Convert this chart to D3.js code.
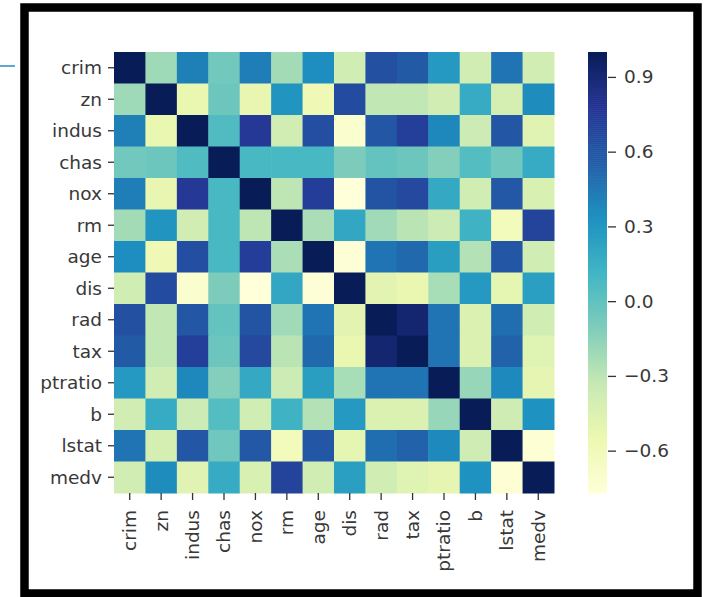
<!DOCTYPE html>
<html>
<head>
<meta charset="utf-8">
<script src="https://cdn.jsdelivr.net/npm/d3@7"></script>
<style>
  html, body { margin: 0; padding: 0; background: #ffffff; }
  svg { display: block; }
  text { font-family: "DejaVu Sans", sans-serif; fill: #383838; }
</style>
</head>
<body>
<svg id="chart" width="705" height="597"></svg>
<script>
// ---- data ----
const variables = ["crim","zn","indus","chas","nox","rm","age","dis","rad","tax","ptratio","b","lstat","medv"];
const crim    = [ 1.00,-0.20, 0.41,-0.06, 0.42,-0.22, 0.35,-0.38, 0.63, 0.58, 0.29,-0.39, 0.46,-0.39];
const zn      = [-0.20, 1.00,-0.53,-0.04,-0.52, 0.31,-0.57, 0.66,-0.31,-0.31,-0.39, 0.18,-0.41, 0.36];
const indus   = [ 0.41,-0.53, 1.00, 0.06, 0.76,-0.39, 0.64,-0.71, 0.60, 0.72, 0.38,-0.36, 0.60,-0.48];
const chas    = [-0.06,-0.04, 0.06, 1.00, 0.09, 0.09, 0.09,-0.10,-0.01,-0.04,-0.12, 0.05,-0.05, 0.18];
const nox     = [ 0.42,-0.52, 0.76, 0.09, 1.00,-0.30, 0.73,-0.77, 0.61, 0.67, 0.19,-0.38, 0.59,-0.43];
const rm      = [-0.22, 0.31,-0.39, 0.09,-0.30, 1.00,-0.24, 0.21,-0.21,-0.29,-0.36, 0.13,-0.61, 0.70];
const age     = [ 0.35,-0.57, 0.64, 0.09, 0.73,-0.24, 1.00,-0.75, 0.46, 0.51, 0.26,-0.27, 0.60,-0.38];
const dis     = [-0.38, 0.66,-0.71,-0.10,-0.77, 0.21,-0.75, 1.00,-0.49,-0.53,-0.23, 0.29,-0.50, 0.25];
const rad     = [ 0.63,-0.31, 0.60,-0.01, 0.61,-0.21, 0.46,-0.49, 1.00, 0.91, 0.46,-0.44, 0.49,-0.38];
const tax     = [ 0.58,-0.31, 0.72,-0.04, 0.67,-0.29, 0.51,-0.53, 0.91, 1.00, 0.46,-0.44, 0.54,-0.47];
const ptratio = [ 0.29,-0.39, 0.38,-0.12, 0.19,-0.36, 0.26,-0.23, 0.46, 0.46, 1.00,-0.18, 0.37,-0.51];
const b       = [-0.39, 0.18,-0.36, 0.05,-0.38, 0.13,-0.27, 0.29,-0.44,-0.44,-0.18, 1.00,-0.37, 0.33];
const lstat   = [ 0.46,-0.41, 0.60,-0.05, 0.59,-0.61, 0.60,-0.50, 0.49, 0.54, 0.37,-0.37, 1.00,-0.74];
const medv    = [-0.39, 0.36,-0.48, 0.18,-0.43, 0.70,-0.38, 0.25,-0.38,-0.47,-0.51, 0.33,-0.74, 1.00];
const colorbarTicks = [-0.6, -0.3, 0.0, 0.3, 0.6, 0.9];
const ylgnbu = ["#ffffd9","#edf8b1","#c7e9b4","#7fcdbb","#41b6c4","#1d91c0","#225ea8","#253494","#081d58"];

const rows = [crim, zn, indus, chas, nox, rm, age, dis, rad, tax, ptratio, b, lstat, medv];
const cells = [];
rows.forEach((row, i) => row.forEach((v, j) => cells.push({row: variables[i], col: variables[j], value: v})));

const vmin = d3.min(cells, d => d.value);
const vmax = d3.max(cells, d => d.value);

// ---- layout ----
const svg = d3.select("#chart");
const hm = {left: 114, top: 52, right: 554, bottom: 493};
const cb = {left: 588, right: 607, top: 52, bottom: 493};
const fontSize = 18.5;

// outer frame
svg.append("rect")
  .attr("x", 24.5).attr("y", 7.5).attr("width", 673).attr("height", 586)
  .attr("fill", "#ffffff").attr("stroke", "#000").attr("stroke-width", 8.5);
// light-blue stub line at top-left
svg.append("line")
  .attr("x1", 0).attr("x2", 15).attr("y1", 66).attr("y2", 66)
  .attr("stroke", "#5aa9d6").attr("stroke-width", 2);

const x = d3.scaleBand().domain(variables).range([hm.left, hm.right]);
const y = d3.scaleBand().domain(variables).range([hm.top, hm.bottom]);
const interp = d3.piecewise(d3.interpolateRgb, ylgnbu);
const color = d3.scaleSequential(interp).domain([vmin, vmax]);

svg.append("g").selectAll("rect").data(cells).join("rect")
  .attr("x", d => x(d.col)).attr("y", d => y(d.row))
  .attr("width", x.bandwidth() + 0.5).attr("height", y.bandwidth() + 0.5)
  .attr("fill", d => color(d.value));

// y axis labels
const yAxis = svg.append("g");
variables.forEach(v => {
  const cy = y(v) + y.bandwidth() / 2;
  yAxis.append("line").attr("x1", hm.left - 6).attr("x2", hm.left).attr("y1", cy).attr("y2", cy)
    .attr("stroke", "#333").attr("stroke-width", 1.3);
  yAxis.append("text").attr("x", hm.left - 12).attr("y", cy).attr("dy", "0.35em")
    .attr("text-anchor", "end").attr("font-size", fontSize).text(v);
});

// x axis labels
const xAxis = svg.append("g");
variables.forEach(v => {
  const cx = x(v) + x.bandwidth() / 2;
  xAxis.append("line").attr("x1", cx).attr("x2", cx).attr("y1", hm.bottom).attr("y2", hm.bottom + 7)
    .attr("stroke", "#333").attr("stroke-width", 1.3);
  xAxis.append("text").attr("transform", `translate(${cx},${hm.bottom + 17}) rotate(-90)`)
    .attr("dy", "0.35em").attr("text-anchor", "end").attr("font-size", fontSize).text(v);
});

// colorbar
const cbScale = d3.scaleLinear().domain([vmin, vmax]).range([cb.bottom, cb.top]);
const steps = 220;
const cbData = d3.range(steps).map(k => vmin + (vmax - vmin) * k / steps);
const stepVal = (vmax - vmin) / steps;
svg.append("g").selectAll("rect").data(cbData).join("rect")
  .attr("x", cb.left).attr("width", cb.right - cb.left)
  .attr("y", d => cbScale(d + stepVal))
  .attr("height", d => cbScale(d) - cbScale(d + stepVal) + 0.6)
  .attr("fill", d => color(d + stepVal / 2));

const cbAxis = d3.axisRight(cbScale).tickValues(colorbarTicks)
  .tickSize(8).tickPadding(8)
  .tickFormat(d => d3.format(".1f")(d).replace("-", "\u2212"));
const cbG = svg.append("g").attr("transform", `translate(${cb.right + 1},0)`).call(cbAxis);
cbG.select(".domain").remove();
cbG.selectAll(".tick line").attr("stroke", "#333").attr("stroke-width", 1.3);
cbG.selectAll(".tick text").attr("font-size", fontSize).attr("fill", "#383838")
  .attr("font-family", "DejaVu Sans, sans-serif");
</script>
</body>
</html>
